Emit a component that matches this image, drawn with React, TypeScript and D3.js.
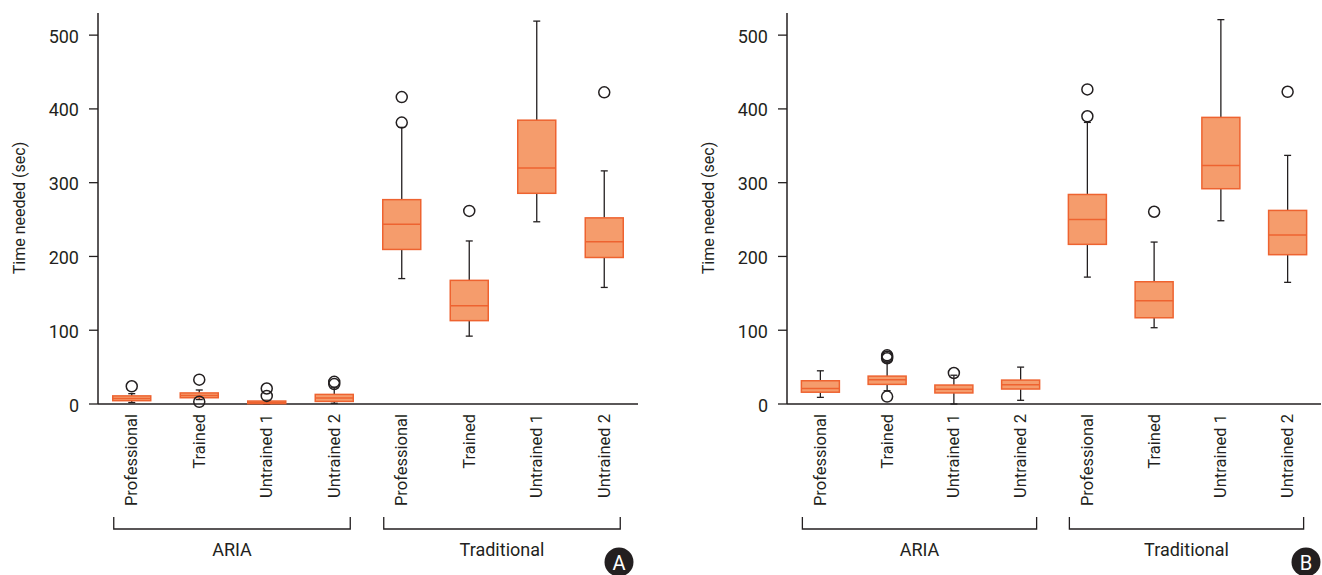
import React from "react";
import * as d3 from "d3";

// ---- data ----
const categories = [
  "Professional", "Trained", "Untrained 1", "Untrained 2",
  "Professional", "Trained", "Untrained 1", "Untrained 2",
];
const groups = ["ARIA", "Traditional"];
const yTicks = [0, 100, 200, 300, 400, 500];
const yTitle = "Time needed (sec)";

// Panel A
const aLow = [2, 6, 0, 1, 170, 92, 247, 158];
const aQ1 = [4.5, 8.5, 0.5, 3.5, 209.5, 113, 285.6, 198.6];
const aMed = [7.5, 11.5, 2, 8, 243.7, 133.3, 319.8, 220];
const aQ3 = [11, 15, 4, 13, 277, 167.6, 384.7, 252.3];
const aHigh = [14, 19, 5, 22, 375, 221, 519, 316];
const aOutliers = [[24], [33, 3], [11, 21], [27, 30], [381.5, 416], [261.7], [], [422.5]];

// Panel B
const bLow = [9, 18, 0, 5, 172, 103.4, 248.4, 164.9];
const bQ1 = [16, 26.6, 15, 20.3, 216.4, 116.9, 291.8, 202.4];
const bMed = [21, 33, 20, 26, 250.2, 140, 323.4, 229];
const bQ3 = [31.5, 37.8, 25.7, 32.4, 284, 165.7, 388.5, 262.4];
const bHigh = [45, 57, 39, 50, 381.7, 219.5, 521, 337];
const bOutliers = [[], [10, 62, 64, 66], [42], [], [390, 426.4], [260.6], [], [423.2]];

const FILL = "#F59C6C";
const STROKE = "#EE6330";
const INK = "#231f20";
const FONT = "Roboto, 'Noto Sans', sans-serif";

type PanelProps = {
  x0: number;
  x1: number;
  low: number[];
  q1: number[];
  med: number[];
  q3: number[];
  high: number[];
  outliers: number[][];
  badge: string;
  badgeX: number;
};

function Panel({ x0, x1, low, q1, med, q3, high, outliers, badge, badgeX }: PanelProps) {
  const yTop = 13;
  const yBottom = 404;
  const x = d3
    .scaleBand<number>()
    .domain(categories.map((_, i) => i))
    .range([x0, x1])
    .padding(0);
  const y = d3.scaleLinear().domain([0, 530]).range([yBottom, yTop]);
  const bw = 38;
  const cap = 7;
  const cx = (i: number) => (x(i) as number) + x.bandwidth() / 2;

  return (
    <g>
      {/* y title */}
      <text
        transform={`translate(${x0 - 79},${208}) rotate(-90)`}
        textAnchor="middle"
        dominantBaseline="central"
        fontSize={16}
        fill={INK}
        fontFamily={FONT}
      >
        {yTitle}
      </text>
      {/* y axis */}
      <line x1={x0} x2={x0} y1={yTop} y2={yBottom} stroke={INK} strokeWidth={1.5} />
      {yTicks.map((t) => (
        <g key={t}>
          <line x1={x0 - 9} x2={x0} y1={y(t)} y2={y(t)} stroke={INK} strokeWidth={1.3} />
          <text
            x={x0 - 19}
            y={y(t) + 1}
            textAnchor="end"
            dominantBaseline="central"
            fontSize={18}
            fill={INK}
            fontFamily={FONT}
          >
            {t}
          </text>
        </g>
      ))}
      {/* x axis */}
      <line x1={x0} x2={x1} y1={yBottom} y2={yBottom} stroke={INK} strokeWidth={1.5} />

      {/* boxes */}
      {categories.map((_, i) => {
        const c = cx(i);
        return (
          <g key={i}>
            <line x1={c} x2={c} y1={y(q3[i])} y2={y(high[i])} stroke={INK} strokeWidth={1.3} />
            <line x1={c} x2={c} y1={y(q1[i])} y2={y(low[i])} stroke={INK} strokeWidth={1.3} />
            <line x1={c - cap / 2} x2={c + cap / 2} y1={y(high[i])} y2={y(high[i])} stroke={INK} strokeWidth={1.3} />
            <line x1={c - cap / 2} x2={c + cap / 2} y1={y(low[i])} y2={y(low[i])} stroke={INK} strokeWidth={1.3} />
            <rect
              x={c - bw / 2}
              y={y(q3[i])}
              width={bw}
              height={Math.max(1, y(q1[i]) - y(q3[i]))}
              fill={FILL}
              stroke={STROKE}
              strokeWidth={1.5}
            />
            <line x1={c - bw / 2} x2={c + bw / 2} y1={y(med[i])} y2={y(med[i])} stroke={STROKE} strokeWidth={1.5} />
            {outliers[i].map((o, k) => (
              <circle key={k} cx={c} cy={y(o)} r={5.5} fill="none" stroke={INK} strokeWidth={1.5} />
            ))}
          </g>
        );
      })}

      {/* category labels */}
      {categories.map((cat, i) => (
        <text
          key={i}
          transform={`translate(${cx(i)},${414}) rotate(-90)`}
          textAnchor="end"
          dominantBaseline="central"
          fontSize={16.5}
          fill={INK}
          fontFamily={FONT}
        >
          {cat}
        </text>
      ))}

      {/* group brackets */}
      {groups.map((g, gi) => {
        const a = cx(gi * 4) - 18;
        const b = cx(gi * 4 + 3) + 16;
        return (
          <g key={g}>
            <path
              d={`M${a},517 V529 H${b} V517`}
              fill="none"
              stroke={INK}
              strokeWidth={1.3}
            />
            <text
              x={(a + b) / 2}
              y={549}
              textAnchor="middle"
              dominantBaseline="central"
              fontSize={18}
              fill={INK}
              fontFamily={FONT}
            >
              {g}
            </text>
          </g>
        );
      })}

      {/* badge */}
      <circle cx={badgeX} cy={562} r={14.5} fill={INK} />
      <text
        x={badgeX}
        y={563}
        textAnchor="middle"
        dominantBaseline="central"
        fontSize={20}
        fill="#fff"
        fontFamily={FONT}
      >
        {badge}
      </text>
    </g>
  );
}

export default function App() {
  return (
    <svg
      width={1322}
      height={575}
      style={{ position: "absolute", left: 0, top: 0, background: "#fff" }}
    >
      <rect width={1322} height={575} fill="#fff" />
      <Panel x0={98} x1={638} low={aLow} q1={aQ1} med={aMed} q3={aQ3} high={aHigh} outliers={aOutliers} badge="A" badgeX={619} />
      <Panel x0={787} x1={1321} low={bLow} q1={bQ1} med={bMed} q3={bQ3} high={bHigh} outliers={bOutliers} badge="B" badgeX={1306} />
    </svg>
  );
}
